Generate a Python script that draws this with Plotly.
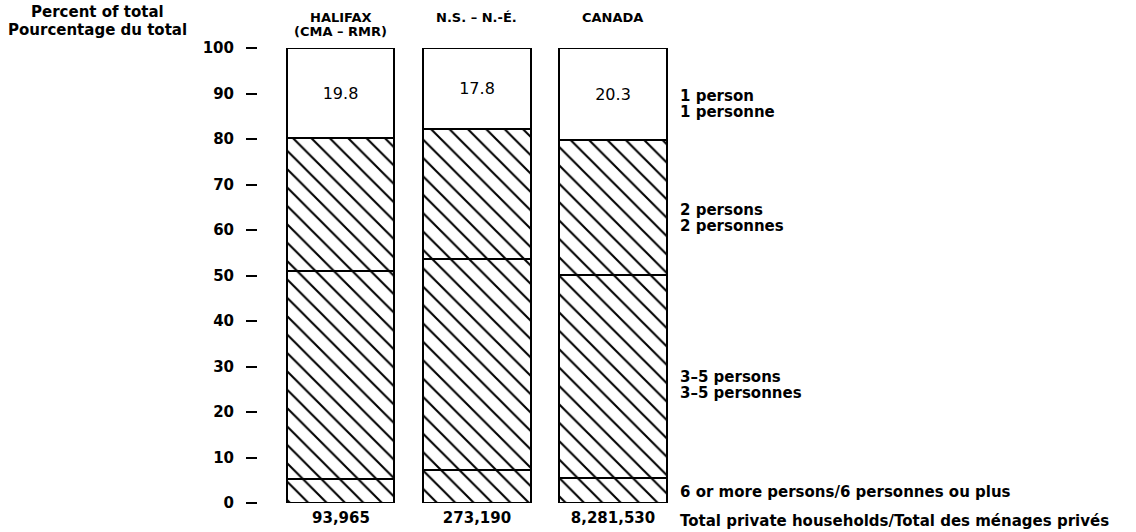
import plotly.graph_objects as go

# Household size distribution, percent of total private households
header_lines = [["HALIFAX", "(CMA – RMR)"], ["N.S. – N.-É."], ["CANADA"]]
six_plus = [5.2, 7.2, 5.6]
three_to_five = [45.8, 46.4, 44.6]
two_persons = [29.2, 28.6, 29.5]
one_person = [19.8, 17.8, 20.3]
total_households = [93965, 273190, 8281530]
y_ticks = [0, 10, 20, 30, 40, 50, 60, 70, 80, 90, 100]

segment_labels = [
    (["6 or more persons/6 personnes ou plus"], 2.4),
    (["3–5 persons", "3–5 personnes"], 26.0),
    (["2 persons", "2 personnes"], 62.6),
    (["1 person", "1 personne"], 87.7),
]
footer_label = "Total private households/Total des ménages privés"
axis_title = ["Percent of total", "Pourcentage du total"]

BOLD = "DejaVu Sans"
x_pos = list(range(len(header_lines)))

W, H = 1136, 532
M_L, M_R, M_T, M_B = 258, 455, 48, 29
PLOT_H = H - M_T - M_B
PLOT_W = W - M_L - M_R
X_RANGE = [-0.61, 2.5]


def paper_y(px):
    return (H - M_B - px) / PLOT_H


def paper_x(px):
    return (px - M_L) / PLOT_W


fig = go.Figure()

hatch = dict(shape="\\", fgcolor="#000000", fgopacity=1, bgcolor="white",
             size=13, solidity=0.16, fillmode="replace")
bar_width = 0.787

for values in (six_plus, three_to_five, two_persons):
    fig.add_trace(go.Bar(
        x=x_pos, y=values, width=bar_width,
        marker=dict(color="white", pattern=hatch, line=dict(color="black", width=2)),
        hoverinfo="skip", showlegend=False,
    ))

fig.add_trace(go.Bar(
    x=x_pos, y=one_person, width=bar_width,
    marker=dict(color="white", line=dict(color="black", width=2)),
    text=[f"{v:.1f}" for v in one_person],
    textposition="inside", insidetextanchor="middle", textangle=0,
    constraintext="none",
    insidetextfont=dict(family="DejaVu Sans", size=16, color="black"),
    hoverinfo="skip", showlegend=False,
))

annotations = []

# column headers above each bar
for xi, lines in zip(x_pos, header_lines):
    for k, line in enumerate(lines):
        annotations.append(dict(
            x=xi, xref="x", y=paper_y(17 + 15 * k), yref="paper",
            text=f"<b>{line}</b>", showarrow=False, xanchor="center", yanchor="middle",
            font=dict(family=BOLD, size=13, color="black"),
        ))

# segment names to the right of the bars
for lines, yv in segment_labels:
    n = len(lines)
    for k, line in enumerate(lines):
        annotations.append(dict(
            x=1.0, xref="paper", xanchor="left", xshift=-3,
            y=yv, yref="y", yanchor="middle",
            yshift=(n - 1) * 8 - 16 * k,
            text=f"<b>{line}</b>", showarrow=False,
            font=dict(family=BOLD, size=15, color="black"),
        ))

annotations.append(dict(
    x=1.0, xref="paper", xanchor="left", xshift=-3,
    y=paper_y(521), yref="paper", yanchor="middle",
    text=f"<b>{footer_label}</b>", showarrow=False,
    font=dict(family=BOLD, size=15, color="black"),
))

# axis title in the top-left corner
for k, line in enumerate(axis_title):
    annotations.append(dict(
        x=paper_x(97), xref="paper", xanchor="center",
        y=paper_y(12 + 18 * k), yref="paper", yanchor="middle",
        text=f"<b>{line}</b>", showarrow=False,
        font=dict(family=BOLD, size=15, color="black"),
    ))

fig.update_layout(
    barmode="stack",
    width=W, height=H,
    margin=dict(l=M_L, r=M_R, t=M_T, b=M_B, pad=0, autoexpand=False),
    paper_bgcolor="white", plot_bgcolor="white",
    annotations=annotations,
    xaxis=dict(
        range=X_RANGE, tickvals=x_pos,
        ticktext=[f"<b>{v:,}</b>" for v in total_households],
        showgrid=False, zeroline=False, showline=False, ticks="",
        tickfont=dict(family=BOLD, size=15, color="black"),
        ticklabelstandoff=4, fixedrange=True, automargin=False,
    ),
    yaxis=dict(
        range=[0, 100], tickvals=y_ticks,
        ticktext=[f"<b>{v}</b>" for v in y_ticks],
        showgrid=False, zeroline=False, showline=False,
        ticks="outside", ticklen=11, tickwidth=2, tickcolor="black",
        tickfont=dict(family=BOLD, size=15, color="black"),
        ticklabelstandoff=9, fixedrange=True, automargin=False,
    ),
    bargap=0,
)

fig.write_html("out.html")
